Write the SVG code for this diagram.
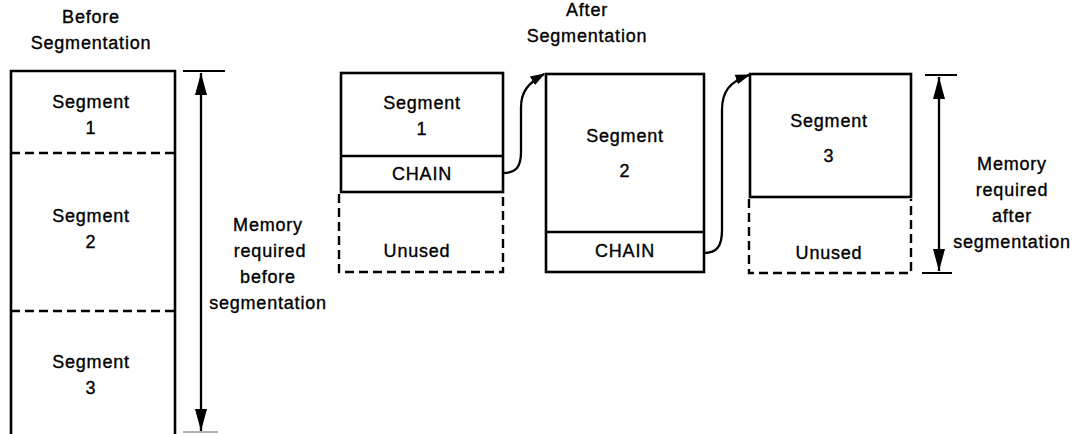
<svg xmlns="http://www.w3.org/2000/svg" width="1078" height="434" viewBox="0 0 1078 434">
  <style>
    text { font-family: "Liberation Sans", Arial, sans-serif; font-size: 18px; fill: #000; stroke: #000; stroke-width: 0.35px; text-anchor: middle; letter-spacing: 0.8px; }
    .box { fill: none; stroke: #000; stroke-width: 2.6; }
    .dash { fill: none; stroke: #000; stroke-width: 2.4; stroke-dasharray: 9 5; }
    .line { fill: none; stroke: #000; stroke-width: 2.3; }
    .tick { fill: none; stroke: #000; stroke-width: 2; }
  </style>
  <defs>
    <marker id="arr" viewBox="0 0 10 10" refX="9" refY="5" markerWidth="15" markerHeight="10" orient="auto" markerUnits="userSpaceOnUse" preserveAspectRatio="none">
      <path d="M0,0 L10,5 L0,10 Z" fill="#000"/>
    </marker>
    <marker id="dim" viewBox="0 0 10 10" refX="10" refY="5" markerWidth="22" markerHeight="12" orient="auto-start-reverse" markerUnits="userSpaceOnUse" preserveAspectRatio="none">
      <path d="M0,0 L10,5 L0,10 Z" fill="#000"/>
    </marker>
  </defs>

  <!-- Before segmentation: one contiguous block -->
  <g id="before-title">
    <text x="91" y="23">Before</text>
    <text x="91" y="49">Segmentation</text>
  </g>
  <g id="before-block">
    <path class="box" d="M11,434 L11,71 L175,71 L175,434"/>
    <line class="dash" x1="11" y1="153" x2="175" y2="153"/>
    <line class="dash" x1="11" y1="311" x2="178" y2="311"/>
    <text x="91" y="108">Segment</text>
    <text x="91" y="134">1</text>
    <text x="91" y="222">Segment</text>
    <text x="91" y="248">2</text>
    <text x="91" y="368">Segment</text>
    <text x="91" y="394">3</text>
  </g>
  <g id="before-dimension">
    <line class="tick" x1="183" y1="71" x2="225" y2="71"/>
    <line x1="183" y1="432" x2="218" y2="432" stroke="#999" stroke-width="1.5"/>
    <line class="line" x1="201" y1="73" x2="201" y2="431" marker-start="url(#dim)" marker-end="url(#dim)"/>
    <text x="268" y="231">Memory</text>
    <text x="270" y="257">required</text>
    <text x="268" y="283">before</text>
    <text x="268" y="309">segmentation</text>
  </g>

  <!-- After segmentation: three chained segments -->
  <g id="after-title">
    <text x="587" y="16">After</text>
    <text x="587" y="42">Segmentation</text>
  </g>
  <g id="seg1">
    <rect class="box" x="341" y="73" width="162" height="119"/>
    <line class="box" x1="341" y1="156" x2="503" y2="156"/>
    <path class="dash" d="M339,194 L339,272 L503,272 L503,194"/>
    <text x="422" y="109">Segment</text>
    <text x="422" y="135">1</text>
    <text x="422" y="180">CHAIN</text>
    <text x="417" y="257">Unused</text>
  </g>
  <g id="seg2">
    <rect class="box" x="546" y="74" width="158" height="198"/>
    <line class="box" x1="546" y1="232" x2="704" y2="232"/>
    <text x="625" y="142">Segment</text>
    <text x="625" y="177">2</text>
    <text x="625" y="257">CHAIN</text>
  </g>
  <g id="seg3">
    <rect class="box" x="750" y="74" width="161" height="123"/>
    <path class="dash" d="M749,199 L749,273 L911,273 L911,199"/>
    <text x="829" y="127">Segment</text>
    <text x="829" y="162">3</text>
    <text x="829" y="259">Unused</text>
  </g>
  <g id="after-dimension">
    <line class="tick" x1="925" y1="75" x2="957" y2="75"/>
    <line class="tick" x1="922" y1="273" x2="952" y2="273"/>
    <line class="line" x1="939" y1="77" x2="939" y2="271" marker-start="url(#dim)" marker-end="url(#dim)"/>
    <text x="1012" y="170">Memory</text>
    <text x="1012" y="196">required</text>
    <text x="1012" y="222">after</text>
    <text x="1012" y="248">segmentation</text>
  </g>

  <!-- CHAIN links -->
  <g id="connectors">
    <path class="line" d="M503,173 C516,173 521,167 521,152 L521,108 C521,92 527,84 544,74" marker-end="url(#arr)"/>
    <path class="line" d="M704,253 C717,253 722,246 722,230 L722,110 C722,92 729,82 749,75" marker-end="url(#arr)"/>
  </g>
</svg>
